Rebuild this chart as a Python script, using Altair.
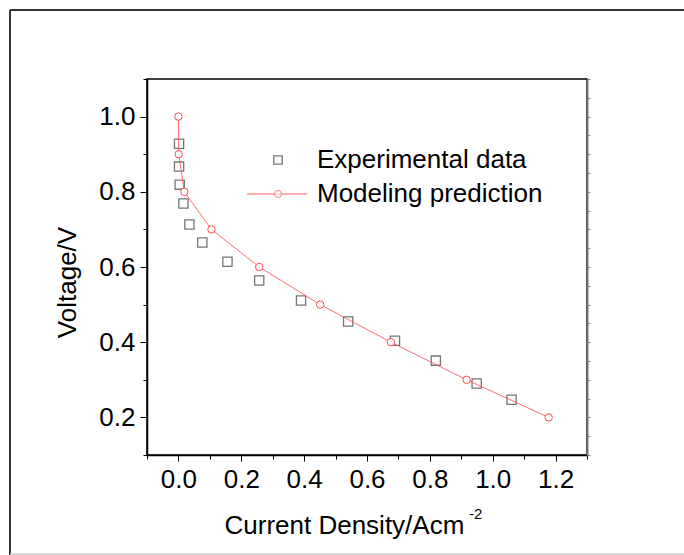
import altair as alt
import pandas as pd

# ---------------- data ----------------
exp_current = [0.002, 0.002, 0.004, 0.016, 0.035, 0.076, 0.156, 0.257, 0.390, 0.540, 0.689, 0.819, 0.949, 1.060]
exp_voltage = [0.928, 0.867, 0.819, 0.769, 0.713, 0.665, 0.614, 0.564, 0.511, 0.455, 0.404, 0.351, 0.290, 0.247]
model_current = [0.0, 0.001, 0.019, 0.105, 0.257, 0.451, 0.676, 0.917, 1.178]
model_voltage = [1.0, 0.9, 0.8, 0.7, 0.6, 0.5, 0.4, 0.3, 0.2]
series_names = ["Experimental data", "Modeling prediction"]
x_ticks = [-0.1, 0.0, 0.1, 0.2, 0.3, 0.4, 0.5, 0.6, 0.7, 0.8, 0.9, 1.0, 1.1, 1.2, 1.3]
y_ticks = [0.1, 0.2, 0.3, 0.4, 0.5, 0.6, 0.7, 0.8, 0.9, 1.0, 1.1]
y_right_ticks = [0.1, 0.15, 0.2, 0.25, 0.3, 0.35, 0.4, 0.45, 0.5, 0.55, 0.6, 0.65, 0.7,
                 0.75, 0.8, 0.85, 0.9, 0.95, 1.0, 1.05, 1.1]
x_title = "Current Density/Acm"
x_title_sup = "-2"
y_title = "Voltage/V"

exp_df = pd.DataFrame({"current": exp_current, "voltage": exp_voltage})
model_df = pd.DataFrame({"current": model_current, "voltage": model_voltage})

FONT = "Liberation Sans"
W, H = 440, 376
PAD_L, PAD_T = 147, 79
RED_LINE = "#ff5a5a"
RED_PT = "#ff4a4a"
GREY_SQ = "#3c3c3c"

x_scale = alt.Scale(domain=[-0.1, 1.3], nice=False, zero=False)
y_scale = alt.Scale(domain=[0.1, 1.1], nice=False, zero=False)

major = "abs(round(datum.value*10)) % 2 == 0"
lab_expr = f"{major} ? format(datum.value, '.1f') : ''"

x_axis = alt.Axis(
    values=x_ticks, labelExpr=lab_expr, grid=False, orient="bottom",
    tickSize={"condition": {"test": major, "value": 6}, "value": 4},
    tickColor="black", tickWidth=1, domainColor="black", domainWidth=1.5,
    labelFont=FONT, labelFontSize=26, labelColor="black", labelPadding=5,
    labelFlush=False, labelOverlap=False,
    title=x_title, titleFont=FONT, titleFontSize=26, titleFontWeight="normal",
    titleColor="black", titleAlign="left", titleBaseline="alphabetic",
    titleX=77, titleY=78,
)
y_axis = alt.Axis(
    values=y_ticks, labelExpr=lab_expr, grid=False, orient="left",
    tickSize={"condition": {"test": major, "value": 7}, "value": 4},
    tickColor="black", tickWidth=1, domainColor="black", domainWidth=1.5,
    labelFont=FONT, labelFontSize=26, labelColor="black", labelPadding=5,
    labelFlush=False, labelOverlap=False,
    title=y_title, titleFont=FONT, titleFontSize=26, titleFontWeight="normal",
    titleColor="black", titleAngle=270, titleAlign="center", titleBaseline="middle",
    titleX=-80, titleY=203,
)
y_axis_right = alt.Axis(
    values=y_right_ticks, labels=False, grid=False, orient="right", title=None,
    tickSize=3, tickColor="#888888", domainColor="#777777", domainWidth=2,
)

exp_layer = alt.Chart(exp_df).mark_point(
    shape="square", filled=False, size=85, stroke=GREY_SQ, strokeWidth=1.3
).encode(
    x=alt.X("current:Q", scale=x_scale, axis=x_axis),
    y=alt.Y("voltage:Q", scale=y_scale, axis=y_axis),
)

model_layer = alt.Chart(model_df).mark_line(
    color=RED_LINE, strokeWidth=0.9,
    point=alt.OverlayMarkDef(shape="circle", filled=False, fill="white", size=55,
                             stroke=RED_PT, strokeWidth=1),
).encode(
    x=alt.X("current:Q", scale=x_scale, axis=x_axis),
    y=alt.Y("voltage:Q", scale=y_scale, axis=y_axis_right),
)

# ---------- manual legend ----------
leg0 = pd.DataFrame({"label": [series_names[0]]})
leg1 = pd.DataFrame({"label": [series_names[1]]})
leg_text0 = alt.Chart(leg0).mark_text(
    align="left", baseline="middle", font=FONT, fontSize=26, color="black"
).encode(x=alt.value(170), y=alt.value(81), text="label:N")
leg_text1 = alt.Chart(leg1).mark_text(
    align="left", baseline="middle", font=FONT, fontSize=26, color="black"
).encode(x=alt.value(170), y=alt.value(115), text="label:N")
leg_sq = alt.Chart(leg0).mark_point(
    shape="square", filled=False, size=70, stroke=GREY_SQ, strokeWidth=1.3
).encode(x=alt.value(131), y=alt.value(81))
leg_line = alt.Chart(leg1).mark_rule(color=RED_LINE, strokeWidth=1).encode(
    x=alt.value(100), x2=alt.value(160), y=alt.value(115))
leg_circ = alt.Chart(leg1).mark_point(
    shape="circle", filled=True, fill="white", size=50, stroke=RED_PT, strokeWidth=1
).encode(x=alt.value(131), y=alt.value(115))

# superscript of the x title
sup_df = pd.DataFrame({"t": [x_title_sup]})
sup = alt.Chart(sup_df).mark_text(
    align="left", baseline="alphabetic", font=FONT, fontSize=15, color="black"
).encode(x=alt.value(322), y=alt.value(440), text="t:N")

# ---------- outer frame ----------
frame_df = pd.DataFrame({"k": [0]})
frame_top = alt.Chart(frame_df).mark_rule(color="#333333", strokeWidth=2).encode(
    x=alt.value(10 - PAD_L), x2=alt.value(684 - PAD_L), y=alt.value(10 - PAD_T))
frame_left = alt.Chart(frame_df).mark_rule(color="#333333", strokeWidth=2).encode(
    x=alt.value(10 - PAD_L), y=alt.value(10 - PAD_T), y2=alt.value(555 - PAD_T))
frame_bottom = alt.Chart(frame_df).mark_rule(color="#cccccc", strokeWidth=1.5).encode(
    x=alt.value(10 - PAD_L), x2=alt.value(684 - PAD_L), y=alt.value(554 - PAD_T))

chart = alt.layer(
    exp_layer, model_layer,
    leg_line, leg_circ, leg_sq, leg_text0, leg_text1, sup,
    frame_top, frame_left, frame_bottom,
).resolve_scale(y="independent").properties(
    width=W, height=H,
    autosize=alt.AutoSizeParams(type="none"),
    padding={"left": PAD_L, "top": PAD_T, "right": 684 - PAD_L - W, "bottom": 555 - PAD_T - H},
    background="white",
).configure_view(stroke="black", strokeWidth=1.5)

chart.save("out.html", embed_options={"renderer": "svg", "actions": False})
